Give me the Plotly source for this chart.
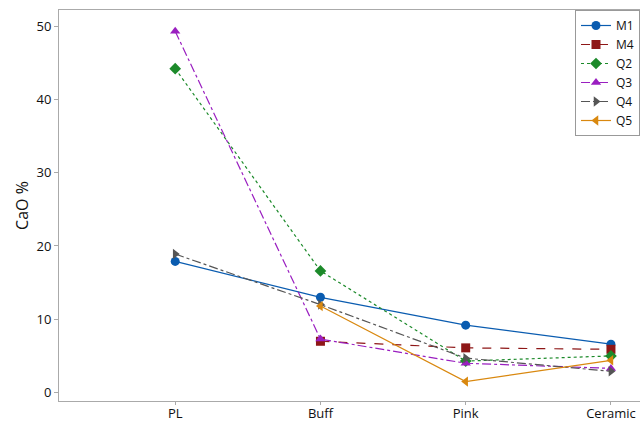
import plotly.graph_objects as go

categories = ["PL", "Buff", "Pink", "Ceramic"]
m1 = [17.9, 13.0, 9.2, 6.6]
m4 = [None, 7.0, 6.1, 5.9]
q2 = [44.2, 16.6, 4.3, 5.0]
q3 = [49.3, 7.3, 4.0, 3.3]
q4 = [18.9, 12.0, 4.7, 2.9]
q5 = [None, 11.8, 1.5, 4.4]

series = [
    ("M1", m1, "#0a5cb0", "solid", "circle"),
    ("M4", m4, "#8e1717", "dash", "square"),
    ("Q2", q2, "#1c8a2a", "dot", "diamond"),
    ("Q3", q3, "#9a1fc0", "dashdot", "triangle-up"),
    ("Q4", q4, "#555555", "dashdot", "triangle-right"),
    ("Q5", q5, "#d9880f", "solid", "triangle-left"),
]

fig = go.Figure()
for name, vals, color, dash, sym in series:
    fig.add_trace(go.Scatter(
        x=categories, y=vals, name=name, mode="lines+markers",
        line=dict(color=color, width=1.2, dash=dash),
        marker=dict(symbol=sym, size=9, color=color),
        connectgaps=False,
    ))

fig.update_layout(
    width=640, height=422,
    margin=dict(l=59, r=0, t=10, b=21),
    plot_bgcolor="white", paper_bgcolor="white",
    font=dict(family="Open Sans, Noto Sans, sans-serif", size=13, color="#111"),
    showlegend=True,
    legend=dict(
        x=1, y=1, xanchor="right", yanchor="top",
        bordercolor="#999", borderwidth=1, bgcolor="white",
        font=dict(size=12), itemwidth=30,
    ),
)
fig.update_xaxes(
    type="category", range=[-0.8, 3.2], automargin=False,
    showline=True, linecolor="#aaa", linewidth=1, mirror=True,
    ticks="outside", ticklen=3, tickcolor="#aaa", ticklabelstandoff=-3,
    tickfont=dict(size=13),
    showgrid=False, zeroline=False,
)
fig.update_yaxes(
    range=[-1.15, 52.2], tickvals=[0, 10, 20, 30, 40, 50], automargin=False,
    showline=True, linecolor="#aaa", linewidth=1,
    ticks="outside", ticklen=4, tickcolor="#aaa",
    showgrid=False, zeroline=False,
    title=dict(text="CaO %", font=dict(size=16), standoff=3),
)

fig.write_html(
    "out.html",
    config={"displayModeBar": False},
    post_script="document.body.style.margin='0';document.body.style.overflow='hidden';",
)
